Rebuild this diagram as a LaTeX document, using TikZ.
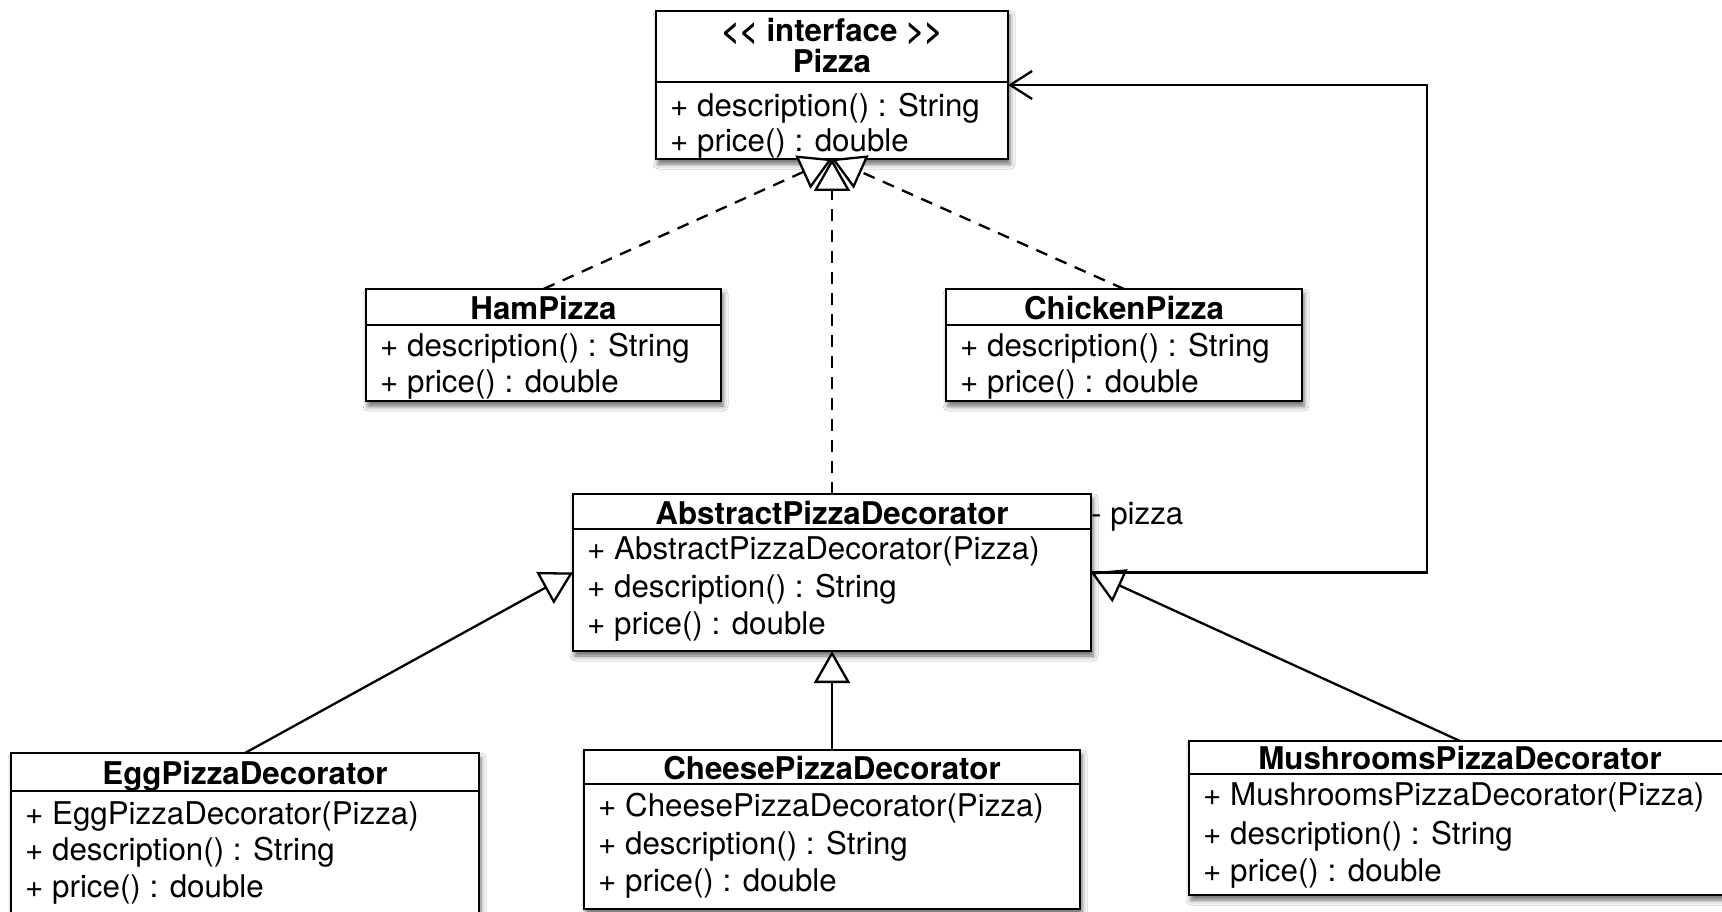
\documentclass[tikz,border=0pt]{standalone}
\usepackage{fontspec}
\setmainfont{TeX Gyre Heros}
\usetikzlibrary{arrows.meta,shadows.blur}

\newcommand\umlfont{\fontsize{31.3pt}{37pt}\selectfont}
% class frame: name, left, top, right, bottom, y of the compartment rule
\newcommand\umlbox[6]{%
  \node[classbox, minimum width={(#4)-(#2)}, minimum height={(#5)-(#3)}]
    (#1) at ({((#2)+(#4))/2},{((#3)+(#5))/2}) {};
  \draw[sepline] (#1.west |- 0,#6) -- (#1.east |- 0,#6);
}

\begin{document}
\begin{tikzpicture}[x=1pt,y=-1pt,
  classbox/.style={rectangle, draw, line width=2.6pt, fill=white, inner sep=0pt, outer sep=0pt,
    blur shadow={shadow xshift=2pt, shadow yshift=-5pt, shadow blur radius=5pt, shadow opacity=60}},
  sepline/.style={line width=2.6pt},
  titletext/.style={font=\umlfont\bfseries, inner sep=0pt, text height=22pt, text depth=6pt, anchor=center, yshift=-3.8pt},
  attrtext/.style={font=\umlfont, inner sep=0pt, text height=22pt, text depth=6pt, anchor=west, xshift=14pt, yshift=-3.8pt},
  gen/.style={line width=2.3pt, -{Triangle[fill=white, length=32pt, width=36pt]}},
  realize/.style={gen, dash pattern=on 12pt off 9pt},
  assoc/.style={line width=2.3pt, -{Straight Barb[length=22pt, width=28pt]}}]

\path[fill=white] (0,0) rectangle (1722,912);
\useasboundingbox (0,0) rectangle (1722,912);

% interface Pizza
\umlbox{pizza}{656}{11}{1008}{159}{82}
\node[titletext] (pizzaS) at (pizza.north |- 0,29.6) {<\kern0pt< interface >\kern0pt>};
\node[titletext] (pizzaT) at (pizza.north |- 0,60.4) {Pizza};
\node[attrtext] (pizzaA) at (pizza.west |- 0,104.3) {+ description() : String};
\node[attrtext] (pizzaB) at (pizza.west |- 0,139.4) {+ price() : double};

% HamPizza
\umlbox{ham}{366}{289}{721}{401}{325}
\node[titletext] (hamT) at (ham.north |- 0,307.4) {HamPizza};
\node[attrtext] (hamA) at (ham.west |- 0,344.8) {+ description() : String};
\node[attrtext] (hamB) at (ham.west |- 0,381) {+ price() : double};

% ChickenPizza
\umlbox{chicken}{946}{289}{1302}{401}{325}
\node[titletext] (chickenT) at (chicken.north |- 0,307.4) {ChickenPizza};
\node[attrtext] (chickenA) at (chicken.west |- 0,344.8) {+ description() : String};
\node[attrtext] (chickenB) at (chicken.west |- 0,381) {+ price() : double};

% AbstractPizzaDecorator
\umlbox{abstract}{573}{494}{1091}{651}{529}
\node[titletext] (abstractT) at (abstract.north |- 0,512.8) {AbstractPizzaDecorator};
\node[attrtext] (abstractA) at (abstract.west |- 0,547.9) {+ AbstractPizzaDecorator(Pizza)};
\node[attrtext] (abstractB) at (abstract.west |- 0,585.2) {+ description() : String};
\node[attrtext] (abstractC) at (abstract.west |- 0,622.6) {+ price() : double};
\node[attrtext, xshift=-14pt] (role) at (abstract.east |- 0,512.8) {- pizza};

% EggPizzaDecorator
\umlbox{egg}{11}{753}{479}{945}{791}
\node[titletext] (eggT) at (egg.north |- 0,773) {EggPizzaDecorator};
\node[attrtext] (eggA) at (egg.west |- 0,812.5) {+ EggPizzaDecorator(Pizza)};
\node[attrtext] (eggB) at (egg.west |- 0,848.8) {+ description() : String};
\node[attrtext] (eggC) at (egg.west |- 0,886) {+ price() : double};

% CheesePizzaDecorator
\umlbox{cheese}{584}{750}{1080}{909}{784}
\node[titletext] (cheeseT) at (cheese.north |- 0,767.5) {CheesePizzaDecorator};
\node[attrtext] (cheeseA) at (cheese.west |- 0,804.8) {+ CheesePizzaDecorator(Pizza)};
\node[attrtext] (cheeseB) at (cheese.west |- 0,842.2) {+ description() : String};
\node[attrtext] (cheeseC) at (cheese.west |- 0,879.5) {+ price() : double};

% MushroomsPizzaDecorator
\umlbox{mushrooms}{1189}{741}{1731}{895}{774}
\node[titletext] (mushroomsT) at (mushrooms.north |- 0,757.6) {MushroomsPizzaDecorator};
\node[attrtext] (mushroomsA) at (mushrooms.west |- 0,793.9) {+ MushroomsPizzaDecorator(Pizza)};
\node[attrtext] (mushroomsB) at (mushrooms.west |- 0,832.3) {+ description() : String};
\node[attrtext] (mushroomsC) at (mushrooms.west |- 0,869.6) {+ price() : double};

% realizations of the interface
\draw[realize] (ham.north) -- (pizza.south);
\draw[realize] (chicken.north) -- (pizza.south);
\draw[realize] (abstract.north) -- (pizza.south);

% generalizations of the abstract decorator
\draw[gen] (egg.north) -- (abstract.west);
\draw[gen] (cheese.north) -- (abstract.south);
\draw[gen] (mushrooms.north) -- (abstract.east);

% association decorator -> pizza
\draw[assoc] (abstract.east) -- ++(336,0) |- (pizza.east);
\end{tikzpicture}
\end{document}
